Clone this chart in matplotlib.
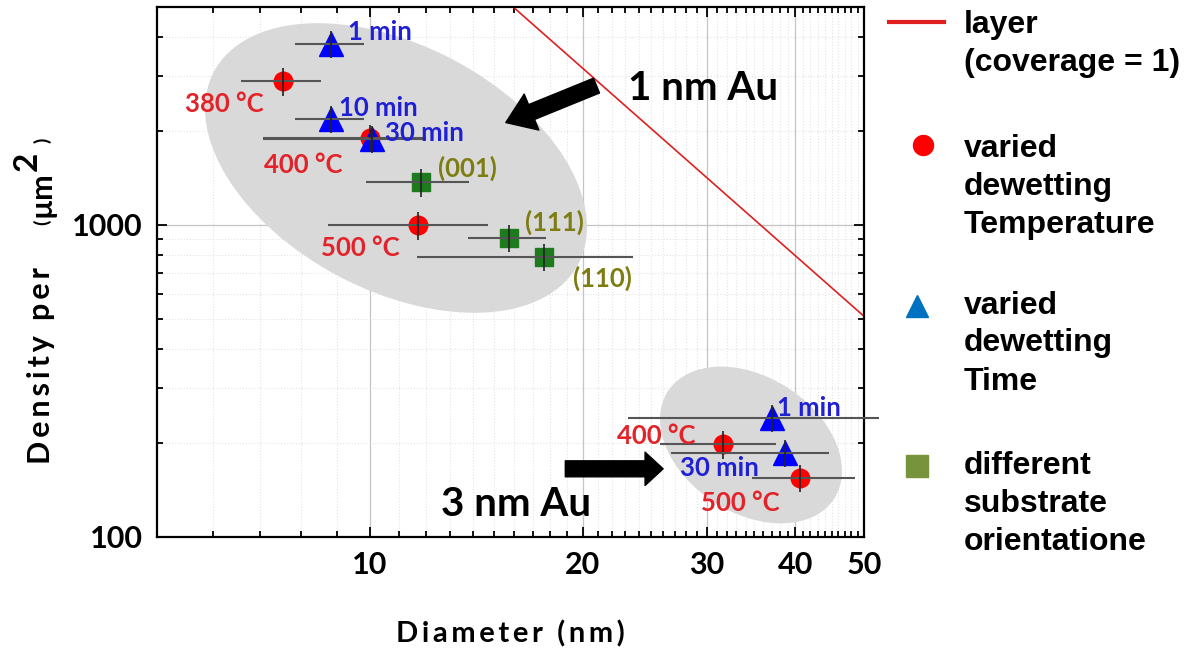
import matplotlib
matplotlib.use('Agg')
import matplotlib.pyplot as plt
from matplotlib.patches import Ellipse
from matplotlib.transforms import Affine2D
from matplotlib.lines import Line2D
from matplotlib.ticker import FixedLocator, NullFormatter, FixedFormatter

# ---- data (diameter in nm, density per um^2) ----
# varied dewetting temperature (circles)
temp_labels = ['380 °C', '400 °C', '500 °C', '400 °C', '500 °C']
temp_d = [7.55, 10.0, 11.72, 31.6, 40.6]
temp_n = [2890, 1900, 996, 198, 154]
temp_d_lo = [6.58, 7.07, 8.74, 25.7, 34.7]
temp_d_hi = [8.55, 12.0, 14.7, 37.5, 48.6]
temp_n_lo = [2600, 1710, 895, 178, 139]
temp_n_hi = [3180, 2090, 1100, 218, 170]
temp_lab_x = [5.48, 7.08, 8.55, 22.35, 29.4]
temp_lab_y = [2445, 1551, 843, 210, 128]

# varied dewetting time (triangles)
time_labels = ['1 min', '10 min', '30 min', '1 min', '30 min']
time_d = [8.83, 8.83, 10.09, 37.1, 38.6]
time_n = [3805, 2190, 1888, 241, 186]
time_d_lo = [7.85, 7.85, 7.07, 23.2, 26.7]
time_d_hi = [9.81, 9.81, 12.0, 52.5, 44.6]
time_n_lo = [3420, 1970, 1700, 217, 167]
time_n_hi = [4190, 2410, 2080, 265, 205]
time_lab_x = [9.32, 9.05, 10.5, 37.7, 27.45]
time_lab_y = [4145, 2373, 1974, 258, 165.6]

# different substrate orientation (squares)
orient_labels = ['(001)', '(111)', '(110)']
orient_d = [11.82, 15.73, 17.63]
orient_n = [1371, 910, 789]
orient_d_lo = [9.87, 13.79, 11.66]
orient_d_hi = [13.8, 17.76, 23.6]
orient_n_lo = [1230, 820, 710]
orient_n_hi = [1510, 1000, 870]
orient_lab_x = [12.48, 16.57, 19.36]
orient_lab_y = [1514, 1021, 673]

# closed layer (coverage = 1)
layer_d = [14, 55]
layer_n = [6496, 421]

x_ticks = [10, 20, 30, 40, 50]
y_ticks = [100, 1000]

FONT = ['Lato', 'DejaVu Sans']
RED_TXT = '#e3232a'
BLUE_TXT = '#1f1fd6'
OLIVE_TXT = '#7d7d12'
ANN_FS = 18.5


def spaced(s):
    return '\u2009'.join(s)


fig = plt.figure(figsize=(12, 6.49), dpi=100)
ax = fig.add_axes([156.7 / 1200, 1 - 536.7 / 649, (864 - 156.7) / 1200, (536.7 - 7) / 649])
ax.set_xscale('log')
ax.set_yscale('log')
ax.set_xlim(5, 50)
ax.set_ylim(100, 5000)

# reference pixel frame (origin top-left) for the shaded groups
px = Affine2D().scale(0.01, -0.01).translate(0, 6.49) + fig.dpi_scale_trans
ax.add_patch(Ellipse((396, 168), 412, 245, angle=27.8, transform=px,
                     fc='#d9d9d9', ec='none', zorder=1))
ax.add_patch(Ellipse((751, 445), 198, 136, angle=32.8, transform=px,
                     fc='#d9d9d9', ec='none', zorder=1))

ax.plot(layer_d, layer_n, color='#e02020', lw=1.2, zorder=2)


def draw_series(d, n, d_lo, d_hi, n_lo, n_hi, marker, color, ms):
    xerr = [[a - b for a, b in zip(d, d_lo)], [b - a for a, b in zip(d, d_hi)]]
    yerr = [[a - b for a, b in zip(n, n_lo)], [b - a for a, b in zip(n, n_hi)]]
    ax.plot(d, n, ls='none', marker=marker, ms=ms, color=color, mec=color, zorder=3)
    ax.errorbar(d, n, xerr=xerr, fmt='none', ecolor='#555555', elinewidth=1.5,
                capsize=0, zorder=4, clip_on=False)
    ax.errorbar(d, n, yerr=yerr, fmt='none', ecolor='#222222', elinewidth=1.2,
                capsize=0, zorder=4)


draw_series(temp_d, temp_n, temp_d_lo, temp_d_hi, temp_n_lo, temp_n_hi, 'o', '#ff0000', 13.4)
draw_series(orient_d, orient_n, orient_d_lo, orient_d_hi, orient_n_lo, orient_n_hi, 's', '#1d7a1d', 12.3)
draw_series(time_d, time_n, time_d_lo, time_d_hi, time_n_lo, time_n_hi, '^', '#0000ff', 17)

for lab, x, y in zip(temp_labels, temp_lab_x, temp_lab_y):
    ax.text(x, y, lab, color=RED_TXT, fontsize=ANN_FS, fontweight='bold', family=FONT,
            ha='left', va='center', zorder=5)
for lab, x, y in zip(time_labels, time_lab_x, time_lab_y):
    ax.text(x, y, lab, color=BLUE_TXT, fontsize=ANN_FS, fontweight='bold', family=FONT,
            ha='left', va='center', zorder=5)
for lab, x, y in zip(orient_labels, orient_lab_x, orient_lab_y):
    ax.text(x, y, lab, color=OLIVE_TXT, fontsize=ANN_FS, fontweight='bold', family=FONT,
            ha='left', va='center', zorder=5)

# group captions and arrows
ax.text(23.2, 2731, '1 nm Au', fontsize=29, fontweight='bold', family=FONT,
        ha='left', va='center', zorder=5)
ax.text(12.6, 126.4, '3 nm Au', fontsize=29, fontweight='bold', family=FONT,
        ha='left', va='center', zorder=5)
ax.annotate('', xy=(15.58, 2130), xytext=(20.93, 2798),
            arrowprops=dict(arrowstyle='simple,head_length=2.0,head_width=2.8,tail_width=1.15',
                            mutation_scale=10, color='black', shrinkA=0, shrinkB=0), zorder=5)
ax.annotate('', xy=(26.0, 165.1), xytext=(18.91, 165.1),
            arrowprops=dict(arrowstyle='simple,head_length=1.3,head_width=2.4,tail_width=1.15',
                            mutation_scale=10, color='black', shrinkA=0, shrinkB=0), zorder=5)

# axes styling
ax.xaxis.set_major_locator(FixedLocator(x_ticks))
ax.xaxis.set_major_formatter(FixedFormatter([str(t) for t in x_ticks]))
ax.xaxis.set_minor_locator(FixedLocator([v for v in range(6, 50) if v % 10]))
ax.xaxis.set_minor_formatter(NullFormatter())
ax.yaxis.set_major_locator(FixedLocator(y_ticks))
ax.yaxis.set_major_formatter(FixedFormatter([str(t) for t in y_ticks]))
ax.yaxis.set_minor_locator(FixedLocator([v * 100 for v in range(2, 10)] + [v * 1000 for v in range(2, 5)]))
ax.yaxis.set_minor_formatter(NullFormatter())
ax.tick_params(which='both', direction='in', top=True, right=True, width=1.3)
ax.tick_params(which='major', length=7, pad=10)
ax.tick_params(which='minor', length=4)
for t in ax.get_xticklabels() + ax.get_yticklabels():
    t.set_fontsize(22)
    t.set_fontweight('bold')
    t.set_family(FONT)
for s in ax.spines.values():
    s.set_linewidth(1.6)
ax.grid(which='major', color='#c4c4c4', lw=0.9, zorder=0)
ax.grid(which='minor', color='#e4e4e4', lw=0.8, ls=':', zorder=0)
ax.set_axisbelow(True)

ax.set_xlabel(spaced('Diameter (nm)'), fontsize=21, fontweight='bold', family=FONT, labelpad=30)

# y label in pieces: "Density per (µm²)"
yl = [(spaced('Density per'), 22, 50, 366), ('(', 14, 48, 222), ('µm', 22, 50, 194),
      ('2', 24, 37, 161), (')', 14, 48, 140)]
for txt, fs, xb, yc in yl:
    fig.text(xb / 1200, 1 - yc / 649, txt, fontsize=fs, fontweight='bold', family=FONT,
             rotation=90, rotation_mode='anchor', ha='center', va='baseline')

# legend drawn beside the axes
fig.add_artist(Line2D([889 / 1200, 944 / 1200], [1 - 22 / 649] * 2, color='#e02020', lw=3,
                      transform=fig.transFigure))
leg_marks = [('o', '#ff0000', 14.4, 922.7, 145), ('^', '#0070c0', 16.5, 917.3, 306),
             ('s', '#77933c', 15.8, 917.3, 466)]
for m, c, ms, x, y in leg_marks:
    fig.add_artist(Line2D([x / 1200], [1 - y / 649], marker=m, color=c, ms=ms, ls='none',
                          transform=fig.transFigure))
leg_text = [(['layer', '(coverage = 1)'], 33.5),
            (['varied', 'dewetting', 'Temperature'], 157),
            (['varied', 'dewetting', 'Time'], 313.5),
            (['different', 'substrate', 'orientatione'], 473.5)]
for lines, y0 in leg_text:
    for i, line in enumerate(lines):
        fig.text(964 / 1200, 1 - (y0 + 38 * i) / 649, line, fontsize=23, fontweight='bold',
                 family='Liberation Sans', ha='left', va='baseline')

fig.savefig('out.png', dpi=100)
